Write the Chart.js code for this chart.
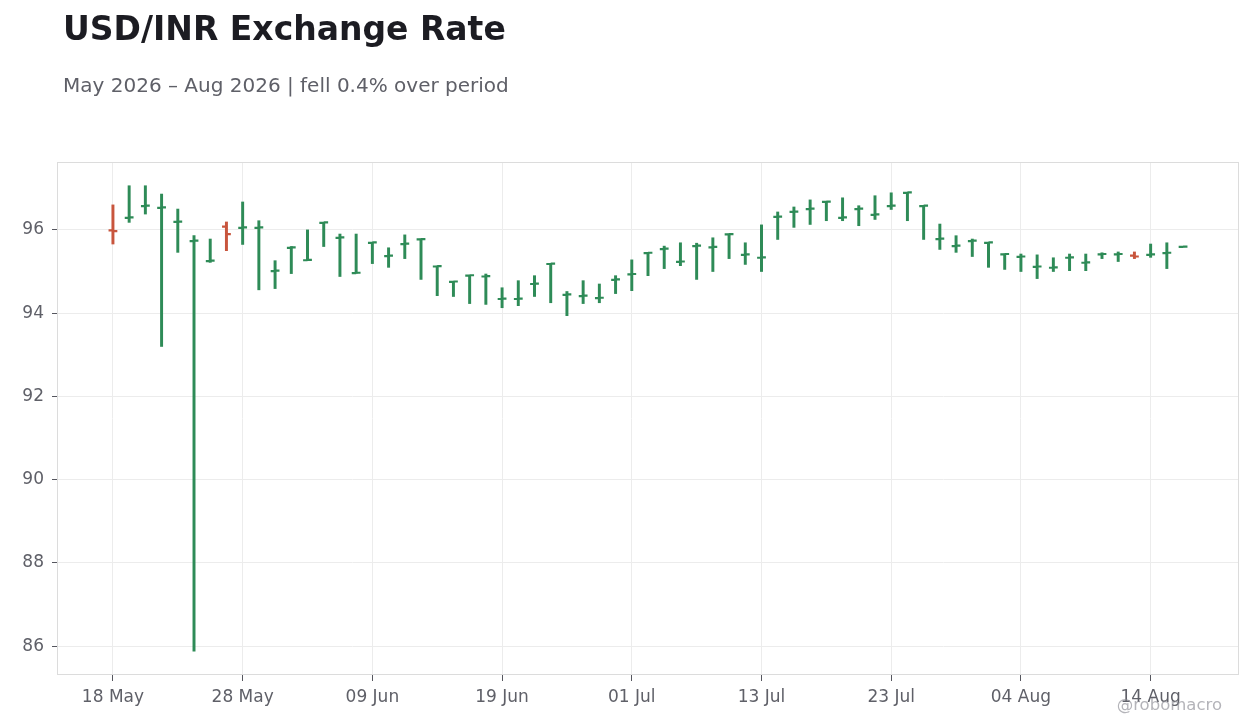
<!DOCTYPE html>
<html>
<head>
<meta charset="utf-8">
<title>USD/INR Exchange Rate</title>
<script src="https://cdn.jsdelivr.net/npm/chart.js@4.4.1/dist/chart.umd.min.js"></script>
<style>
  html, body { margin: 0; padding: 0; background: #fff; }
  body { width: 1260px; height: 728px; position: relative; overflow: hidden; font-family: 'DejaVu Sans', sans-serif; }
  #wrap { position: absolute; left: 0; top: 0; width: 1260px; height: 728px; }
  .title { position: absolute; left: 63px; top: 12px; font-size: 33px; line-height: 1; font-weight: bold; color: #1c1c22; white-space: nowrap; }
  .subtitle { position: absolute; left: 63px; top: 75px; font-size: 20px; line-height: 1; color: #5f6068; white-space: nowrap; }
  .credit { position: absolute; right: 38px; top: 697px; font-size: 16.5px; line-height: 1; color: rgba(140, 140, 148, 0.65); }
</style>
</head>
<body>
<div id="wrap"><canvas id="ohlcChart" width="1260" height="728"></canvas></div>
<div class="title">USD/INR Exchange Rate</div>
<div class="subtitle">May 2026 – Aug 2026 | fell 0.4% over period</div>
<div class="credit">@robomacro</div>
<script>
// Trading days (business days only)
const dates = [
    '18 May', '19 May', '20 May', '21 May', '22 May',
    '25 May', '26 May', '27 May', '28 May', '29 May',
    '01 Jun', '02 Jun', '03 Jun', '04 Jun', '05 Jun',
    '08 Jun', '09 Jun', '10 Jun', '11 Jun', '12 Jun',
    '15 Jun', '16 Jun', '17 Jun', '18 Jun', '19 Jun',
    '22 Jun', '23 Jun', '24 Jun', '25 Jun', '26 Jun',
    '29 Jun', '30 Jun', '01 Jul', '02 Jul', '03 Jul',
    '06 Jul', '07 Jul', '08 Jul', '09 Jul', '10 Jul',
    '13 Jul', '14 Jul', '15 Jul', '16 Jul', '17 Jul',
    '20 Jul', '21 Jul', '22 Jul', '23 Jul', '24 Jul',
    '27 Jul', '28 Jul', '29 Jul', '30 Jul', '31 Jul',
    '03 Aug', '04 Aug', '05 Aug', '06 Aug', '07 Aug',
    '10 Aug', '11 Aug', '12 Aug', '13 Aug', '14 Aug',
    '17 Aug', '18 Aug'
];

const openPrices = [
    95.99, 96.29, 96.57, 96.53, 96.19, 95.73, 95.25, 96.08, 96.05, 96.05,
    95.01, 95.57, 95.27, 96.17, 95.81, 94.96, 95.69, 95.37, 95.66, 95.77,
    95.12, 94.75, 94.90, 94.88, 94.34, 94.34, 94.70, 95.18, 94.44, 94.41,
    94.36, 94.80, 94.93, 95.44, 95.54, 95.23, 95.61, 95.58, 95.89, 95.40,
    95.33, 96.31, 96.43, 96.50, 96.67, 96.29, 96.50, 96.36, 96.57, 96.89,
    96.57, 95.78, 95.61, 95.73, 95.69, 95.41, 95.35, 95.11, 95.09, 95.33,
    95.21, 95.41, 95.41, 95.38, 95.40, 95.44, 95.59
];
const highPrices = [
    96.60, 97.06, 97.06, 96.86, 96.50, 95.86, 95.78, 96.19, 96.67, 96.22,
    95.26, 95.60, 96.00, 96.18, 95.90, 95.90, 95.70, 95.57, 95.88, 95.78,
    95.13, 94.76, 94.91, 94.94, 94.61, 94.78, 94.90, 95.19, 94.52, 94.78,
    94.70, 94.90, 95.28, 95.45, 95.61, 95.69, 95.68, 95.81, 95.90, 95.69,
    96.12, 96.43, 96.55, 96.72, 96.68, 96.77, 96.58, 96.82, 96.89, 96.90,
    96.58, 96.14, 95.86, 95.78, 95.70, 95.42, 95.42, 95.40, 95.33, 95.42,
    95.42, 95.45, 95.47, 95.47, 95.66, 95.69, 95.60
];
const lowPrices = [
    95.66, 96.18, 96.38, 93.20, 95.46, 85.88, 95.22, 95.50, 95.65, 94.56,
    94.59, 94.95, 95.27, 95.60, 94.88, 94.96, 95.19, 95.10, 95.31, 94.81,
    94.42, 94.40, 94.23, 94.21, 94.13, 94.18, 94.40, 94.25, 93.94, 94.23,
    94.25, 94.47, 94.54, 94.90, 95.07, 95.14, 94.81, 95.00, 95.31, 95.17,
    95.00, 95.77, 96.06, 96.13, 96.22, 96.22, 96.10, 96.25, 96.49, 96.22,
    95.77, 95.53, 95.46, 95.36, 95.10, 95.05, 95.00, 94.83, 95.00, 95.02,
    95.02, 95.31, 95.24, 95.31, 95.34, 95.07, 95.59
];
const closePrices = [
    95.97, 96.30, 96.58, 96.54, 96.20, 95.74, 95.26, 95.90, 96.06, 96.06,
    95.02, 95.58, 95.28, 96.18, 95.82, 94.97, 95.70, 95.38, 95.67, 95.78,
    95.13, 94.76, 94.91, 94.89, 94.35, 94.35, 94.71, 95.19, 94.45, 94.42,
    94.37, 94.81, 94.94, 95.45, 95.55, 95.24, 95.62, 95.59, 95.90, 95.41,
    95.34, 96.32, 96.44, 96.51, 96.68, 96.30, 96.51, 96.37, 96.58, 96.90,
    96.58, 95.79, 95.62, 95.74, 95.70, 95.42, 95.36, 95.12, 95.10, 95.34,
    95.22, 95.42, 95.42, 95.36, 95.41, 95.45, 95.60
];

const xTickValues = [0, 8, 16, 24, 32, 40, 48, 56, 64];
const yTickValues = [86, 88, 90, 92, 94, 96];

const UP_COLOR = '#2e8b57';
const DOWN_COLOR = '#c8553d';
const TEXT_COLOR = '#5f6068';
const GRID_COLOR = '#ececec';

const barColors = closePrices.map((c, i) => c >= openPrices[i] ? UP_COLOR : DOWN_COLOR);
const rangeData = dates.map((d, i) => ({ x: i, y: [lowPrices[i], highPrices[i]] }));

// Open (left) and close (right) ticks, plus the full plot frame
const ohlcTicks = {
    id: 'ohlcTicks',
    afterDatasetsDraw(chart) {
        const ctx = chart.ctx;
        const xs = chart.scales.x;
        const ys = chart.scales.y;
        ctx.save();
        ctx.lineWidth = 2.2;
        ctx.lineCap = 'butt';
        for (let i = 0; i < dates.length; i++) {
            const px = xs.getPixelForValue(i);
            const po = ys.getPixelForValue(openPrices[i]);
            const pc = ys.getPixelForValue(closePrices[i]);
            ctx.strokeStyle = barColors[i];
            ctx.beginPath();
            ctx.moveTo(px - 4.4, po);
            ctx.lineTo(px, po);
            ctx.moveTo(px, pc);
            ctx.lineTo(px + 4.4, pc);
            ctx.stroke();
        }
        ctx.restore();
    },
    afterDraw(chart) {
        const a = chart.chartArea;
        const ctx = chart.ctx;
        ctx.save();
        ctx.strokeStyle = '#dcdcdc';
        ctx.lineWidth = 1;
        ctx.strokeRect(Math.round(a.left) + 0.5, Math.round(a.top) + 0.5,
            Math.round(a.right - a.left) - 1, Math.round(a.bottom - a.top) - 1);
        ctx.restore();
    }
};

new Chart(document.getElementById('ohlcChart'), {
    type: 'bar',
    data: {
        datasets: [{
            label: 'USD/INR',
            data: rangeData,
            backgroundColor: barColors,
            borderWidth: 0,
            barThickness: 2.3,
            grouped: false
        }]
    },
    options: {
        responsive: false,
        animation: false,
        layout: { padding: { top: 162, right: 21, left: 0, bottom: 0 } },
        plugins: {
            legend: { display: false },
            tooltip: { enabled: false }
        },
        scales: {
            x: {
                type: 'linear',
                offset: false,
                min: -3.45,
                max: 69.45,
                afterBuildTicks: (scale) => { scale.ticks = xTickValues.map(v => ({ value: v })); },
                afterFit: (scale) => { scale.height = 53; },
                border: { display: false },
                grid: { offset: false, color: GRID_COLOR, tickColor: '#55565e', tickLength: 6, lineWidth: 1 },
                ticks: {
                    color: TEXT_COLOR,
                    font: { family: 'DejaVu Sans', size: 17 },
                    padding: 6,
                    maxRotation: 0,
                    autoSkip: false,
                    callback: (v) => dates[v] || ''
                }
            },
            y: {
                type: 'linear',
                min: 85.31,
                max: 97.63,
                afterBuildTicks: (scale) => { scale.ticks = yTickValues.map(v => ({ value: v })); },
                afterFit: (scale) => { scale.width = 57; },
                border: { display: false },
                grid: { color: GRID_COLOR, tickColor: '#55565e', tickLength: 5, lineWidth: 1 },
                ticks: {
                    color: TEXT_COLOR,
                    font: { family: 'DejaVu Sans', size: 17 },
                    padding: 8,
                    callback: (v) => String(v)
                }
            }
        }
    },
    plugins: [ohlcTicks]
});
</script>
</body>
</html>
